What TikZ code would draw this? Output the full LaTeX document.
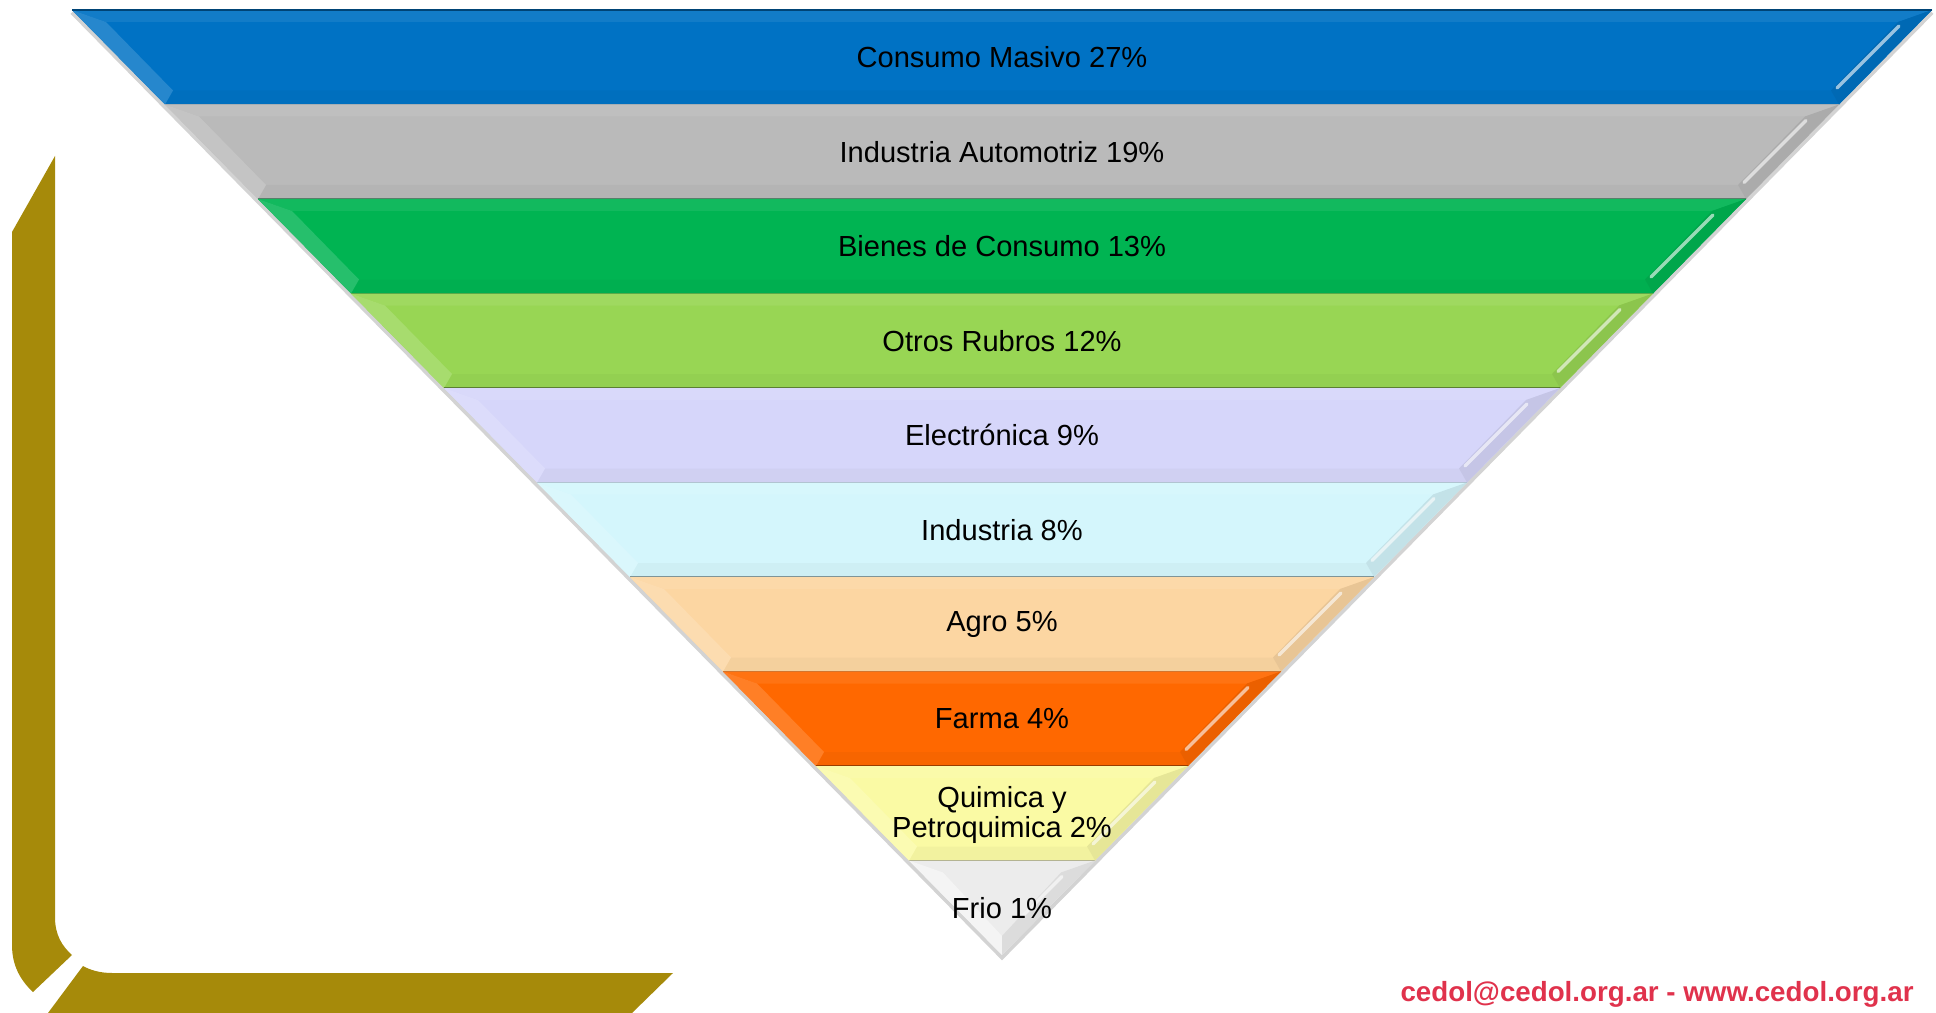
\documentclass[tikz,border=0pt]{standalone}
\usepackage{fontspec}
\setmainfont{Liberation Sans}

\definecolor{cMasivo}{RGB}{0,114,196}
\definecolor{cAuto}{RGB}{186,186,186}
\definecolor{cBienes}{RGB}{0,180,82}
\definecolor{cOtros}{RGB}{152,214,84}
\definecolor{cElectro}{RGB}{214,214,250}
\definecolor{cIndustria}{RGB}{212,246,252}
\definecolor{cAgro}{RGB}{252,214,162}
\definecolor{cFarma}{RGB}{255,104,0}
\definecolor{cQuimica}{RGB}{250,250,164}
\definecolor{cFrio}{RGB}{236,236,236}
\definecolor{cGold}{RGB}{166,138,10}
\definecolor{cMail}{RGB}{224,50,76}

\tikzset{every picture/.style={line width=0.75pt}}
\tikzset{
  topfacet/.style={fill=#1!93!white},
  leftfacet/.style={fill=#1!85!white},
  rightfacet/.style={fill=#1!92!black},
  bottomfacet/.style={fill=#1!97!black},
  edge/.style={draw=#1!60!black, line width=1pt},
  gloss/.style={draw=white, draw opacity=0.6, line width=2.5pt, line cap=round},
  label/.style={font=\fontsize{21.8}{22.5}\selectfont, align=center, text=black},
}

\begin{document}
\begin{tikzpicture}[x=0.75pt,y=0.75pt,yscale=-1,xscale=1]
\useasboundingbox (0,0) rectangle (1936,1013);

%Shape: Gold frame, vertical part
\fill [cGold] (12,232) -- (55,156) -- (55,917) .. controls (55,935) and (62,946) .. (72,955) -- (33,992) .. controls (20,980) and (12,965) .. (12,945) -- cycle;
%Shape: Gold frame, horizontal part
\fill [cGold] (83,966) .. controls (90,970) and (100,973) .. (112,973) -- (673,973) -- (632,1013) -- (48,1013) -- cycle;

%Shape: Funnel shadow
\draw [gray, draw opacity=0.35, line width=3pt] (72,12.5) -- (1002,957.5) -- (1932,12.5);

%Shape: Trapezoid [Consumo Masivo]
\fill [cMasivo] (72,10) -- (1932,10) -- (1839,104.5) -- (165,104.5) -- cycle;
\fill [topfacet=cMasivo] (72,10) -- (1932,10) -- (1898,22) -- (106,22) -- cycle;
\fill [bottomfacet=cMasivo] (165,104.5) -- (173,90.5) -- (1831,90.5) -- (1839,104.5) -- cycle;
\fill [leftfacet=cMasivo] (72,10) -- ++(34,12) -- ++(67,68.5) -- ++(-8,14) -- cycle;
\fill [rightfacet=cMasivo] (1932,10) -- ++(-34,12) -- ++(-67,68.5) -- ++(8,14) -- cycle;
\draw [gloss] (1899,26) -- ++(-62,62);
\draw [edge=cMasivo] (72,10) -- (1932,10);
\draw [edge=cMasivo] (165,104.5) -- (1839,104.5);

%Shape: Trapezoid [Industria Automotriz]
\fill [cAuto] (165,104.5) -- (1839,104.5) -- (1746,199) -- (258,199) -- cycle;
\fill [topfacet=cAuto] (165,104.5) -- (1839,104.5) -- (1805,116.5) -- (199,116.5) -- cycle;
\fill [bottomfacet=cAuto] (258,199) -- (266,185) -- (1738,185) -- (1746,199) -- cycle;
\fill [leftfacet=cAuto] (165,104.5) -- ++(34,12) -- ++(67,68.5) -- ++(-8,14) -- cycle;
\fill [rightfacet=cAuto] (1839,104.5) -- ++(-34,12) -- ++(-67,68.5) -- ++(8,14) -- cycle;
\draw [gloss] (1806,120.5) -- ++(-62,62);
\draw [edge=cAuto] (258,199) -- (1746,199);

%Shape: Trapezoid [Bienes de Consumo]
\fill [cBienes] (258,199) -- (1746,199) -- (1653,293.5) -- (351,293.5) -- cycle;
\fill [topfacet=cBienes] (258,199) -- (1746,199) -- (1712,211) -- (292,211) -- cycle;
\fill [bottomfacet=cBienes] (351,293.5) -- (359,279.5) -- (1645,279.5) -- (1653,293.5) -- cycle;
\fill [leftfacet=cBienes] (258,199) -- ++(34,12) -- ++(67,68.5) -- ++(-8,14) -- cycle;
\fill [rightfacet=cBienes] (1746,199) -- ++(-34,12) -- ++(-67,68.5) -- ++(8,14) -- cycle;
\draw [gloss] (1713,215) -- ++(-62,62);
\draw [edge=cBienes] (351,293.5) -- (1653,293.5);

%Shape: Trapezoid [Otros Rubros]
\fill [cOtros] (351,293.5) -- (1653,293.5) -- (1560,388) -- (444,388) -- cycle;
\fill [topfacet=cOtros] (351,293.5) -- (1653,293.5) -- (1619,305.5) -- (385,305.5) -- cycle;
\fill [bottomfacet=cOtros] (444,388) -- (452,374) -- (1552,374) -- (1560,388) -- cycle;
\fill [leftfacet=cOtros] (351,293.5) -- ++(34,12) -- ++(67,68.5) -- ++(-8,14) -- cycle;
\fill [rightfacet=cOtros] (1653,293.5) -- ++(-34,12) -- ++(-67,68.5) -- ++(8,14) -- cycle;
\draw [gloss] (1620,309.5) -- ++(-62,62);
\draw [edge=cOtros] (444,388) -- (1560,388);

%Shape: Trapezoid [Electronica]
\fill [cElectro] (444,388) -- (1560,388) -- (1467,482.5) -- (537,482.5) -- cycle;
\fill [topfacet=cElectro] (444,388) -- (1560,388) -- (1526,400) -- (478,400) -- cycle;
\fill [bottomfacet=cElectro] (537,482.5) -- (545,468.5) -- (1459,468.5) -- (1467,482.5) -- cycle;
\fill [leftfacet=cElectro] (444,388) -- ++(34,12) -- ++(67,68.5) -- ++(-8,14) -- cycle;
\fill [rightfacet=cElectro] (1560,388) -- ++(-34,12) -- ++(-67,68.5) -- ++(8,14) -- cycle;
\draw [gloss] (1527,404) -- ++(-62,62);
\draw [edge=cElectro] (537,482.5) -- (1467,482.5);

%Shape: Trapezoid [Industria]
\fill [cIndustria] (537,482.5) -- (1467,482.5) -- (1374,577) -- (630,577) -- cycle;
\fill [topfacet=cIndustria] (537,482.5) -- (1467,482.5) -- (1433,494.5) -- (571,494.5) -- cycle;
\fill [bottomfacet=cIndustria] (630,577) -- (638,563) -- (1366,563) -- (1374,577) -- cycle;
\fill [leftfacet=cIndustria] (537,482.5) -- ++(34,12) -- ++(67,68.5) -- ++(-8,14) -- cycle;
\fill [rightfacet=cIndustria] (1467,482.5) -- ++(-34,12) -- ++(-67,68.5) -- ++(8,14) -- cycle;
\draw [gloss] (1434,498.5) -- ++(-62,62);
\draw [edge=cIndustria] (630,577) -- (1374,577);

%Shape: Trapezoid [Agro]
\fill [cAgro] (630,577) -- (1374,577) -- (1281,671.5) -- (723,671.5) -- cycle;
\fill [topfacet=cAgro] (630,577) -- (1374,577) -- (1340,589) -- (664,589) -- cycle;
\fill [bottomfacet=cAgro] (723,671.5) -- (731,657.5) -- (1273,657.5) -- (1281,671.5) -- cycle;
\fill [leftfacet=cAgro] (630,577) -- ++(34,12) -- ++(67,68.5) -- ++(-8,14) -- cycle;
\fill [rightfacet=cAgro] (1374,577) -- ++(-34,12) -- ++(-67,68.5) -- ++(8,14) -- cycle;
\draw [gloss] (1341,593) -- ++(-62,62);
\draw [edge=cAgro] (723,671.5) -- (1281,671.5);

%Shape: Trapezoid [Farma]
\fill [cFarma] (723,671.5) -- (1281,671.5) -- (1188,766) -- (816,766) -- cycle;
\fill [topfacet=cFarma] (723,671.5) -- (1281,671.5) -- (1247,683.5) -- (757,683.5) -- cycle;
\fill [bottomfacet=cFarma] (816,766) -- (824,752) -- (1180,752) -- (1188,766) -- cycle;
\fill [leftfacet=cFarma] (723,671.5) -- ++(34,12) -- ++(67,68.5) -- ++(-8,14) -- cycle;
\fill [rightfacet=cFarma] (1281,671.5) -- ++(-34,12) -- ++(-67,68.5) -- ++(8,14) -- cycle;
\draw [gloss] (1248,687.5) -- ++(-62,62);
\draw [edge=cFarma] (816,766) -- (1188,766);

%Shape: Trapezoid [Quimica y Petroquimica]
\fill [cQuimica] (816,766) -- (1188,766) -- (1095,860.5) -- (909,860.5) -- cycle;
\fill [topfacet=cQuimica] (816,766) -- (1188,766) -- (1154,778) -- (850,778) -- cycle;
\fill [bottomfacet=cQuimica] (909,860.5) -- (917,846.5) -- (1087,846.5) -- (1095,860.5) -- cycle;
\fill [leftfacet=cQuimica] (816,766) -- ++(34,12) -- ++(67,68.5) -- ++(-8,14) -- cycle;
\fill [rightfacet=cQuimica] (1188,766) -- ++(-34,12) -- ++(-67,68.5) -- ++(8,14) -- cycle;
\draw [gloss] (1155,782) -- ++(-62,62);
\draw [edge=cQuimica] (909,860.5) -- (1095,860.5);

%Shape: Triangle [Frio]
\fill [cFrio] (909,860.5) -- (1095,860.5) -- (1002,955) -- cycle;
\fill [cFrio!60!white] (909,860.5) -- (943,872.5) -- (1002,936) -- (1002,955) -- cycle;
\fill [cFrio!93!black] (1095,860.5) -- (1061,872.5) -- (1002,936) -- (1002,955) -- cycle;
\draw [gloss] (1062,876.5) -- ++(-40,40);

% Text Node
\node [label] (consumo) at (1002,57.25) {Consumo Masivo 27\%};
% Text Node
\node [label] (automotriz) at (1002,151.75) {Industria Automotriz 19\%};
% Text Node
\node [label] (bienes) at (1002,246.25) {Bienes de Consumo 13\%};
% Text Node
\node [label] (otros) at (1002,340.75) {Otros Rubros 12\%};
% Text Node
\node [label] (electronica) at (1002,435.25) {Electrónica 9\%};
% Text Node
\node [label] (industria) at (1002,529.75) {Industria 8\%};
% Text Node
\node [label] (agro) at (1002,624.25) {Agro 5\%};
% Text Node
\node [label] (farma) at (1002,718.75) {Farma 4\%};
% Text Node
\node [label] (quimica) at (1002,815) {Quimica y\\Petroquimica 2\%};
% Text Node
\node [label] (frio) at (1002,908) {Frio 1\%};
% Text Node
\node [font=\fontsize{20.8}{24}\selectfont\bfseries, text=cMail] (contacto) at (1657,994) {cedol@cedol.org.ar - www.cedol.org.ar};

\end{tikzpicture}
\end{document}
